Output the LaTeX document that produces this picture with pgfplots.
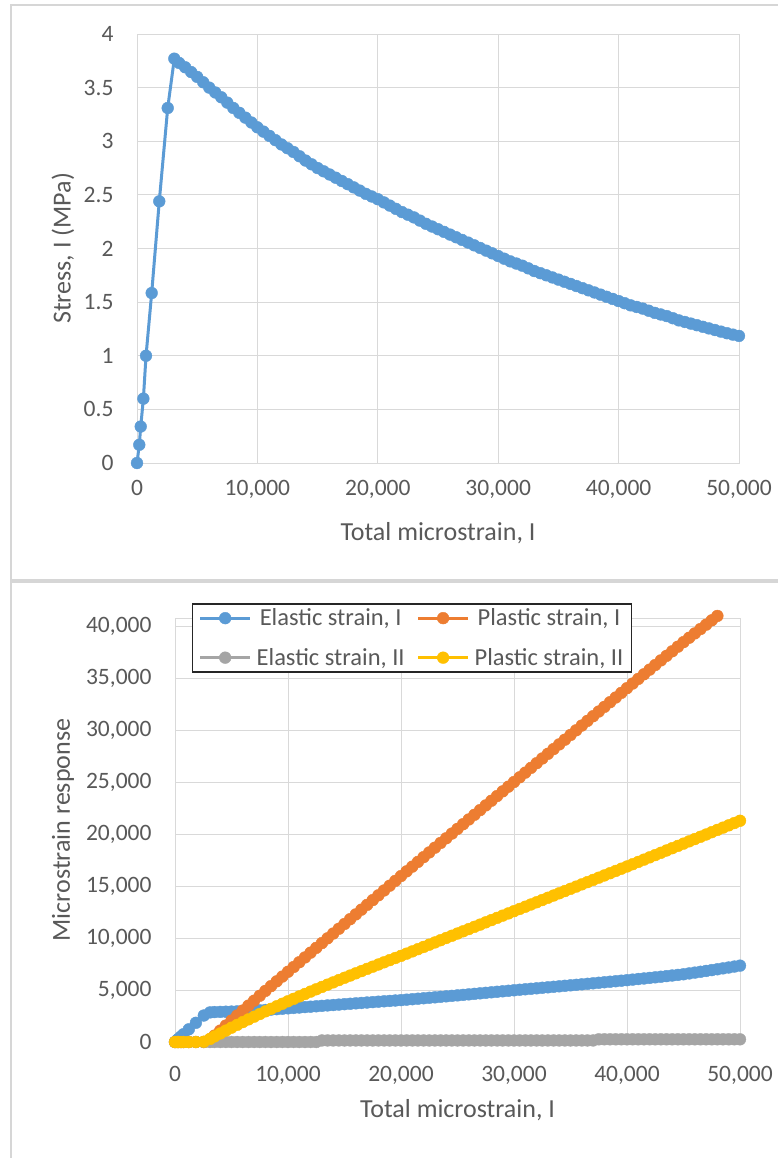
\documentclass[border=0pt]{standalone}
\usepackage{fontspec}
\setmainfont{Carlito}
\usepackage{pgfplots}
\usepackage{pgfplotstable}
\pgfplotsset{compat=1.18}

\definecolor{sblue}{HTML}{5B9BD5}
\definecolor{sorange}{HTML}{ED7D31}
\definecolor{sgray}{HTML}{A5A5A5}
\definecolor{syellow}{HTML}{FFC000}
\definecolor{gridc}{HTML}{D9D9D9}
\definecolor{txt}{HTML}{595959}
\definecolor{framec}{HTML}{D6D6D6}

% x: total microstrain I; s: stress I (MPa); e1/p1: elastic/plastic strain I;
% e2/p2: elastic/plastic strain II
\pgfplotstableread{
x s e1 p1 e2 p2
0 0 0 0 0 0
190 0.17 190 0 0 0
310 0.34 310 0 0 0
530 0.60 530 0 0 0
750 1.00 750 0 0 0
1220 1.585 1220 0 0 0
1850 2.44 1850 0 0 0
2550 3.31 2550 0 0 30
3100 3.77 2850 250 0 300
3500 3.73 2880 620 0 540
4000 3.69 2900 1100 0 820
4500 3.645 2915 1585 0 1100
5000 3.60 2930 2070 0 1380
5500 3.55 2950 2550 0 1650
6000 3.50 2970 3030 0 1920
6500 3.455 2995 3505 0 2180
7000 3.41 3020 3980 0 2440
7500 3.36 3050 4450 0 2695
8000 3.31 3080 4920 0 2950
8500 3.265 3120 5380 0 3195
9000 3.22 3160 5840 0 3440
9500 3.175 3200 6300 0 3680
10000 3.13 3240 6760 0 3920
10500 3.09 3280 7220 0 4155
11000 3.05 3320 7680 0 4390
11500 3.01 3360 8140 0 4620
12000 2.97 3400 8600 0 4850
12500 2.935 3440 9060 0 5075
13000 2.90 3480 9520 150 5300
13500 2.86 3520 9980 150 5520
14000 2.82 3560 10440 150 5740
14500 2.785 3600 10900 150 5960
15000 2.75 3640 11360 150 6180
15500 2.72 3680 11820 150 6395
16000 2.69 3720 12280 150 6610
16500 2.66 3760 12740 150 6825
17000 2.63 3800 13200 150 7040
17500 2.60 3840 13660 150 7250
18000 2.57 3880 14120 150 7460
18500 2.54 3918 14582 150 7670
19000 2.51 3955 15045 150 7880
19500 2.485 3993 15507 150 8085
20000 2.46 4030 15970 150 8290
20500 2.43 4075 16425 150 8505
21000 2.40 4120 16880 150 8720
21500 2.37 4165 17335 150 8935
22000 2.34 4210 17790 150 9150
22500 2.315 4255 18245 150 9365
23000 2.29 4300 18700 150 9580
23500 2.26 4348 19152 150 9795
24000 2.23 4395 19605 150 10010
24500 2.205 4443 20057 150 10225
25000 2.18 4490 20510 150 10440
25500 2.155 4538 20962 150 10655
26000 2.13 4585 21415 150 10870
26500 2.105 4635 21865 150 11085
27000 2.08 4685 22315 150 11300
27500 2.055 4735 22765 150 11515
28000 2.03 4785 23215 150 11730
28500 2.005 4833 23667 150 11945
29000 1.98 4880 24120 150 12160
29500 1.955 4930 24570 150 12375
30000 1.93 4980 25020 150 12590
30500 1.905 5028 25472 150 12805
31000 1.88 5075 25925 150 13020
31500 1.86 5123 26377 150 13235
32000 1.84 5170 26830 150 13450
32500 1.815 5218 27282 150 13665
33000 1.79 5265 27735 150 13880
33500 1.77 5313 28187 150 14095
34000 1.75 5360 28640 150 14310
34500 1.73 5408 29092 150 14525
35000 1.71 5455 29545 150 14740
35500 1.69 5503 29997 150 14955
36000 1.67 5550 30450 150 15170
36500 1.65 5600 30900 150 15385
37000 1.63 5650 31350 150 15600
37500 1.61 5700 31800 260 15815
38000 1.59 5750 32250 260 16030
38500 1.57 5800 32700 260 16245
39000 1.55 5850 33150 260 16460
39500 1.53 5900 33600 260 16675
40000 1.51 5950 34050 260 16890
40500 1.49 6005 34495 260 17110
41000 1.47 6060 34940 260 17330
41500 1.455 6115 35385 260 17550
42000 1.44 6170 35830 260 17770
42500 1.42 6225 36275 260 17990
43000 1.40 6280 36720 260 18210
43500 1.385 6340 37160 260 18430
44000 1.37 6400 37600 260 18650
44500 1.35 6460 38040 260 18870
45000 1.33 6520 38480 260 19090
45500 1.315 6600 38900 260 19310
46000 1.30 6680 39320 260 19530
46500 1.285 6760 39740 260 19750
47000 1.27 6840 40160 260 19970
47500 1.255 6920 40580 260 20190
48000 1.24 7000 41000 260 20410
48500 1.225 7085 nan 260 20630
49000 1.21 7170 nan 260 20850
49500 1.197 7260 nan 260 21070
50000 1.185 7350 nan 260 21290
}\strain

\tikzset{labelfont/.style={font=\fontsize{26bp}{31bp}\selectfont, text=txt}}

\pgfplotsset{
  excel/.style={
    scale only axis,
    clip=false,
    xmin=0, xmax=50000,
    xtick={0,10000,20000,30000,40000,50000},
    scaled x ticks=false, scaled y ticks=false,
    grid=major,
    grid style={gridc, line width=1bp},
    axis line style={gridc, line width=1bp},
    major tick length=0pt,
    tick label style={font=\fontsize{23.5bp}{28bp}\selectfont, text=txt},
    /pgf/number format/assume math mode=true,
    /pgf/number format/1000 sep={,},
    yticklabel style={xshift=-20bp},
  },
  mk/.style={color=#1, line width=3bp, mark=*, mark size=5.9bp,
    mark options={fill=#1, draw=#1, line width=0.4bp, solid}},
}

\begin{document}
\begin{tikzpicture}
\useasboundingbox (0,0) rectangle (778bp,-1158bp);
\fill[white] (0,0) rectangle (778bp,-1158bp);
% chart frames
\draw[framec, line width=2bp] (11bp,-1158bp) -- (11bp,-5bp) -- (778bp,-5bp);
\draw[framec, line width=3.5bp] (11bp,-581bp) -- (778bp,-581bp);

% stress-strain response
\begin{axis}[excel,
  at={(137bp,-463bp)}, anchor=south west,
  width=602bp, height=429bp,
  ymin=0, ymax=4,
  ytick={0,0.5,1,1.5,2,2.5,3,3.5,4},
  xticklabel style={yshift=-14bp},
  xlabel={Total microstrain, I},
  ylabel={Stress, I (MPa)},
  every axis x label/.style={at={(axis description cs:0.5,-0.163)}, anchor=center, labelfont},
  every axis y label/.style={at={(axis description cs:-0.123,0.5)}, anchor=center, rotate=90, labelfont},
]
\addplot[mk=sblue] table[x=x, y=s] {\strain};
\end{axis}

% strain components
\begin{axis}[excel,
  at={(175bp,-1042bp)}, anchor=south west,
  width=565bp, height=424bp,
  ymin=0, ymax=40800,
  ytick={0,5000,10000,15000,20000,25000,30000,35000,40000},
  xticklabel style={yshift=-21bp},
  xlabel={Total microstrain, I},
  ylabel={Microstrain response},
  every axis x label/.style={at={(axis description cs:0.5,-0.160)}, anchor=center, labelfont},
  every axis y label/.style={at={(axis description cs:-0.198,0.5)}, anchor=center, rotate=90, labelfont},
  legend columns=2,
  legend image code/.code={\draw[mark repeat=2, mark phase=2]
    plot coordinates {(0bp,0bp) (25bp,0bp) (50bp,0bp)};},
  legend style={at={(axis description cs:0.030,1.035)}, anchor=north west,
    draw=black!85, line width=1.5bp, fill=white,
    font=\fontsize{24.5bp}{29bp}\selectfont, text=txt,
    inner xsep=6bp, inner ysep=3bp, row sep=17bp,
    /tikz/every odd column/.append style={column sep=3bp},
    /tikz/every even column/.append style={column sep=10bp}},
]
\addplot[mk=sblue] table[x=x, y=e1] {\strain};
\addlegendentry{Elastic strain, I}
\addplot[mk=sorange] table[x=x, y=p1] {\strain};
\addlegendentry{Plastic strain, I}
\addplot[mk=sgray] table[x=x, y=e2] {\strain};
\addlegendentry{Elastic strain, II}
\addplot[mk=syellow] table[x=x, y=p2] {\strain};
\addlegendentry{Plastic strain, II}
\end{axis}
\end{tikzpicture}
\end{document}
